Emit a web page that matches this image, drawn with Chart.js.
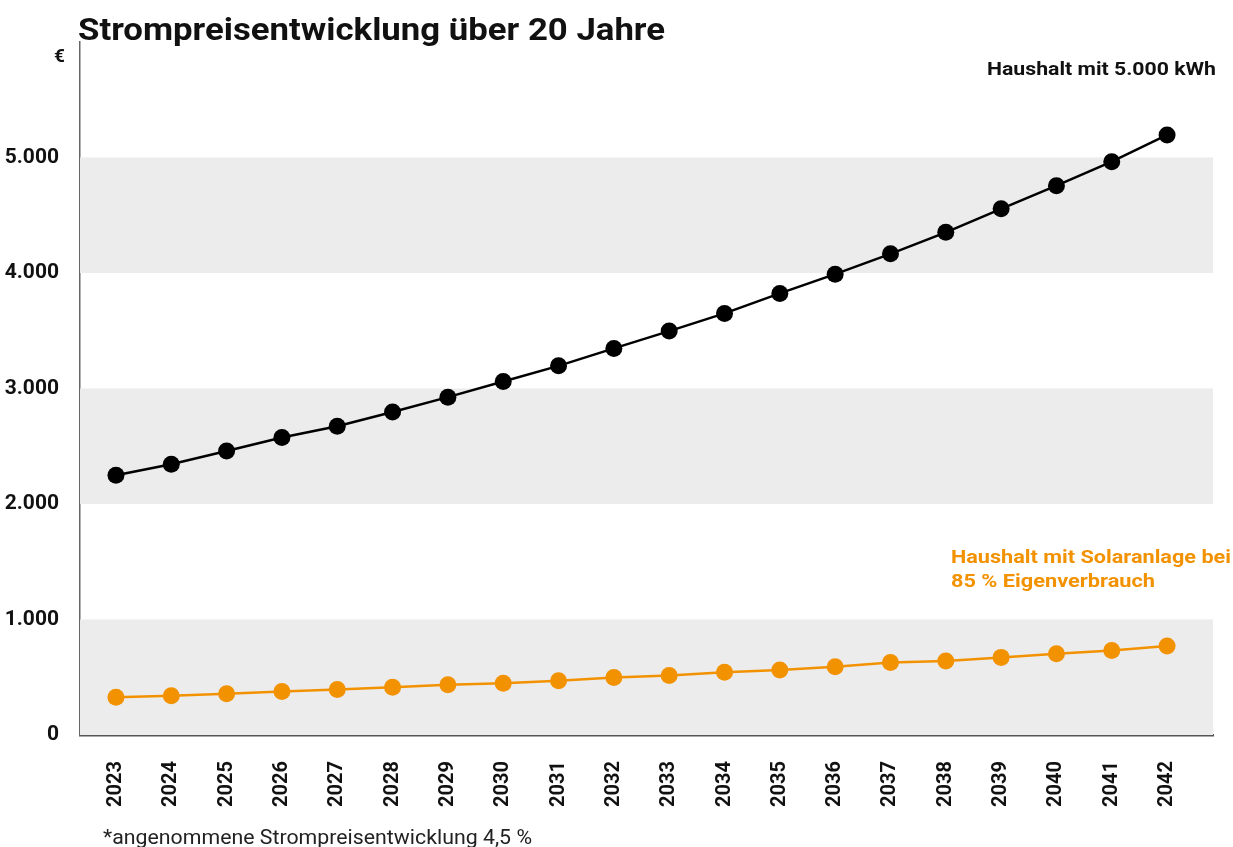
<!DOCTYPE html>
<html lang="de">
<head>
<meta charset="utf-8">
<title>Strompreisentwicklung über 20 Jahre</title>
<script src="https://cdn.jsdelivr.net/npm/chart.js@4.4.0/dist/chart.umd.min.js"></script>
<style>
  html, body { margin: 0; padding: 0; background: #fff; }
  #wrap { position: relative; width: 1233px; height: 847px; }
</style>
</head>
<body>
<div id="wrap"><canvas id="chart"></canvas></div>
<script>
// ---------- DATA ----------
const years = [2023, 2024, 2025, 2026, 2027, 2028, 2029, 2030, 2031, 2032,
               2033, 2034, 2035, 2036, 2037, 2038, 2039, 2040, 2041, 2042];
const haushaltWerte = [2249, 2344, 2459, 2575, 2673, 2797, 2925, 3061, 3196, 3347,
                       3497, 3650, 3823, 3990, 4166, 4352, 4556, 4756, 4964, 5195];
const solarWerte = [327, 340, 357, 377, 394, 414, 435, 449, 469, 498,
                    516, 544, 562, 591, 628, 640, 672, 704, 732, 770];
const yTicks = [0, 1000, 2000, 3000, 4000, 5000];

const titel = "Strompreisentwicklung über 20 Jahre";
const labelHaushalt = "Haushalt mit 5.000 kWh";
const labelSolar = ["Haushalt mit Solaranlage bei", "85 % Eigenverbrauch"];
const fussnote = "*angenommene Strompreisentwicklung 4,5 %";

const ORANGE = "#f39200";
const FONT = "Roboto, 'Noto Sans', sans-serif";

const fmt = (v) => String(v).replace(/\B(?=(\d{3})+(?!\d))/g, ".");

// draws text stretched/squeezed to a given width (the original font is wider than Roboto)
function drawFitted(ctx, text, x, y, width) {
  const w = ctx.measureText(text).width;
  ctx.save();
  ctx.textAlign = "left";
  ctx.translate(x, y);
  ctx.scale(width / w, 1);
  ctx.fillText(text, 0, 0);
  ctx.restore();
}

// ---------- BANDS (behind the lines) ----------
const bandPlugin = {
  id: "bands",
  beforeDatasetsDraw(chart) {
    const { ctx, chartArea, scales } = chart;
    const y = scales.y;
    ctx.save();
    ctx.fillStyle = "#ececec";
    for (let i = 0; i < yTicks.length - 1; i += 2) {
      const top = y.getPixelForValue(yTicks[i + 1]);
      const bottom = y.getPixelForValue(yTicks[i]);
      ctx.fillRect(chartArea.left, top, chartArea.right - chartArea.left, bottom - top);
    }
    ctx.restore();
  }
};

// ---------- TEXTS ----------
const textPlugin = {
  id: "texts",
  afterDraw(chart) {
    const { ctx } = chart;
    ctx.save();
    ctx.textBaseline = "alphabetic";

    ctx.fillStyle = "#111";
    ctx.font = "700 31px " + FONT;
    drawFitted(ctx, titel, 78, 40, 587);

    ctx.font = "700 19px " + FONT;
    ctx.fillText("€", 54, 62);

    ctx.font = "700 18px " + FONT;
    drawFitted(ctx, labelHaushalt, 987, 75, 229);

    ctx.fillStyle = ORANGE;
    ctx.font = "700 19px " + FONT;
    drawFitted(ctx, labelSolar[0], 951, 563, 280);
    drawFitted(ctx, labelSolar[1], 951, 587, 204);

    ctx.fillStyle = "#222";
    ctx.font = "400 20px " + FONT;
    drawFitted(ctx, fussnote, 103, 844, 429);
    ctx.restore();
  }
};

const ctx = document.getElementById("chart").getContext("2d");
new Chart(ctx, {
  type: "line",
  data: {
    datasets: [
      {
        label: labelHaushalt,
        data: years.map((j, i) => ({ x: j, y: haushaltWerte[i] })),
        borderColor: "#000",
        backgroundColor: "#000",
        borderWidth: 2.5,
        pointRadius: 8.5,
        pointBorderWidth: 0,
        tension: 0
      },
      {
        label: labelSolar.join(" "),
        data: years.map((j, i) => ({ x: j, y: solarWerte[i] })),
        borderColor: ORANGE,
        backgroundColor: ORANGE,
        borderWidth: 2.5,
        pointRadius: 8.5,
        pointBorderWidth: 0,
        tension: 0
      }
    ]
  },
  options: {
    responsive: true,
    maintainAspectRatio: false,
    animation: false,
    events: [],
    layout: { padding: { top: 42, right: 20, left: 0, bottom: 0 } },
    plugins: {
      legend: { display: false },
      title: { display: false },
      tooltip: { enabled: false }
    },
    scales: {
      x: {
        type: "linear",
        min: 2022.35,
        max: 2042.83,
        grid: { display: false },
        border: { display: true, color: "#555", width: 2.5 },
        afterBuildTicks: (scale) => { scale.ticks = years.map((v) => ({ value: v })); },
        afterFit: (scale) => { scale.height = 112; },
        ticks: {
          autoSkip: false,
          minRotation: 90,
          maxRotation: 90,
          padding: 18,
          color: "#111",
          font: { family: FONT, size: 20, weight: "700" },
          callback: (v) => String(v)
        }
      },
      y: {
        min: 0,
        max: 6000,
        grid: { display: false },
        border: { display: true, color: "#666", width: 1.5 },
        afterBuildTicks: (scale) => { scale.ticks = yTicks.map((v) => ({ value: v })); },
        afterFit: (scale) => { scale.width = 80; },
        ticks: {
          padding: 13,
          color: "#111",
          font: { family: FONT, size: 21, weight: "700" },
          callback: (v) => fmt(v)
        }
      }
    }
  },
  plugins: [bandPlugin, textPlugin]
});
</script>
</body>
</html>
